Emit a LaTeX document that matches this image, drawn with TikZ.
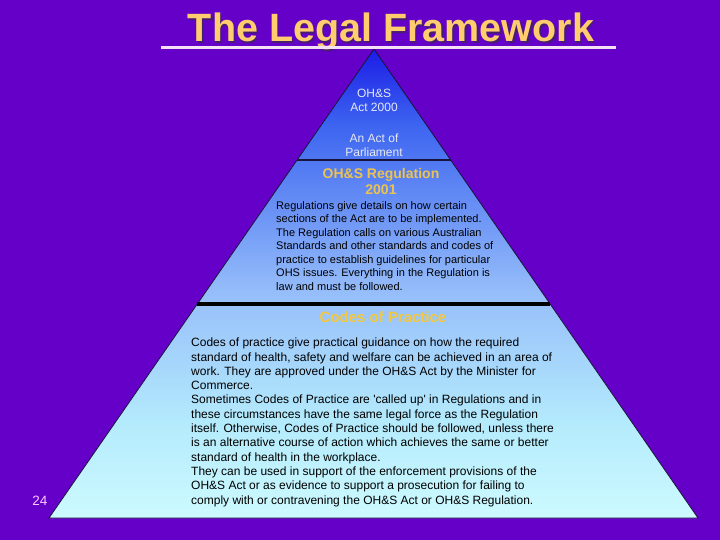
\documentclass[tikz,border=0pt]{standalone}
\usepackage{fontspec}
\setmainfont{Liberation Sans}
\usetikzlibrary{calc}

\definecolor{slidebg}{RGB}{100,0,200}
\definecolor{titlegold}{RGB}{255,204,110}
\definecolor{titleshade}{RGB}{70,30,110}
\definecolor{ruleline}{RGB}{245,225,245}
\definecolor{pyrtop}{RGB}{28,28,230}
\definecolor{pyrupper}{RGB}{60,100,240}
\definecolor{pyrmid}{RGB}{150,190,250}
\definecolor{pyrlower}{RGB}{180,235,252}
\definecolor{pyrbot}{RGB}{205,250,255}
\definecolor{pyredge}{RGB}{25,20,60}
\definecolor{actgrey}{RGB}{230,232,245}
\definecolor{reggold}{RGB}{235,195,80}
\definecolor{codeyellow}{RGB}{245,200,60}
\definecolor{pagepink}{RGB}{255,200,255}

\pgfdeclareverticalshading{pyramidshade}{100bp}{color(0bp)=(pyrbot); color(25bp)=(pyrbot);
  color(35bp)=(pyrlower); color(49bp)=(pyrmid); color(67bp)=(pyrupper);
  color(75bp)=(pyrtop); color(100bp)=(pyrtop)}

\begin{document}
\begin{tikzpicture}[x=1pt,y=-1pt,
  heading/.style={font=\fontsize{39.5}{44}\selectfont\bfseries, inner sep=0pt, anchor=base},
  acttext/.style={font=\fontsize{12}{14.5}\selectfont, text=actgrey, align=center, inner sep=0pt, anchor=base},
  tiername/.style={font=\fontsize{14}{16}\selectfont\bfseries, align=center, inner sep=0pt, anchor=base},
  bodytext/.style={align=left, inner sep=0pt, anchor=base west, text=black}]

  % Background
  \fill[slidebg] (0,0) rectangle (720,540);

  % Pyramid corners
  \coordinate (apex) at (374,49);
  \coordinate (baseL) at (49,518);
  \coordinate (baseR) at (698,518);

  % Pyramid body
  \shade[shading=pyramidshade] (apex) -- (baseL) -- (baseR) -- cycle;
  \draw[pyredge, line width=0.8pt] (apex) -- (baseL) -- (baseR) -- cycle;

  % Tier borders
  \draw[pyredge, line width=2pt] ($(apex)!0.2367!(baseL)$) -- ($(apex)!0.2367!(baseR)$);
  \draw[black, line width=4pt] ($(apex)!0.5437!(baseL)$) -- ($(apex)!0.5437!(baseR)$);

  % Title with underline
  \node[heading, text=titleshade] (titleshadow) at (392.5,43.5) {The Legal Framework};
  \node[heading, text=titlegold] (title) at (391,42) {The Legal Framework};
  \draw[ruleline, line width=3pt] (161,48) -- (616,48);

  % Top tier: the Act (base = last line)
  \node[acttext] (act) at (374,112) {OH\&S\\Act 2000};
  \node[acttext] (parliament) at (374,157) {An Act of\\Parliament};

  % Middle tier: the Regulation
  \node[tiername, text=reggold] (reghead) at (381,195) {OH\&S Regulation\\2001};
  \node[bodytext, font=\fontsize{11}{13.5}\selectfont] (regtext) at (276,290)
    {Regulations give details on how certain\\
     sections of the Act are to be implemented.\\
     The Regulation calls on various Australian\\
     Standards and other standards and codes of\\
     practice to establish guidelines for particular\\
     OHS issues. Everything in the Regulation is\\
     law and must be followed.};

  % Bottom tier: Codes of Practice
  \node[tiername, font=\fontsize{15}{17}\selectfont\bfseries, text=codeyellow] (codehead) at (383,322) {Codes of Practice};
  \node[bodytext, font=\fontsize{12}{14.3}\selectfont] (codetext) at (191,504)
    {Codes of practice give practical guidance on how the required\\
     standard of health, safety and welfare can be achieved in an area of\\
     work. They are approved under the OH\&S Act by the Minister for\\
     Commerce.\\
     Sometimes Codes of Practice are \textquotesingle called up\textquotesingle{} in Regulations and in\\
     these circumstances have the same legal force as the Regulation\\
     itself. Otherwise, Codes of Practice should be followed, unless there\\
     is an alternative course of action which achieves the same or better\\
     standard of health in the workplace.\\
     They can be used in support of the enforcement provisions of the\\
     OH\&S Act or as evidence to support a prosecution for failing to\\
     comply with or contravening the OH\&S Act or OH\&S Regulation.};

  % Page number
  \node[font=\fontsize{13.5}{15}\selectfont, text=pagepink, inner sep=0pt, anchor=base] (pagenum) at (40,505) {24};

\end{tikzpicture}
\end{document}
